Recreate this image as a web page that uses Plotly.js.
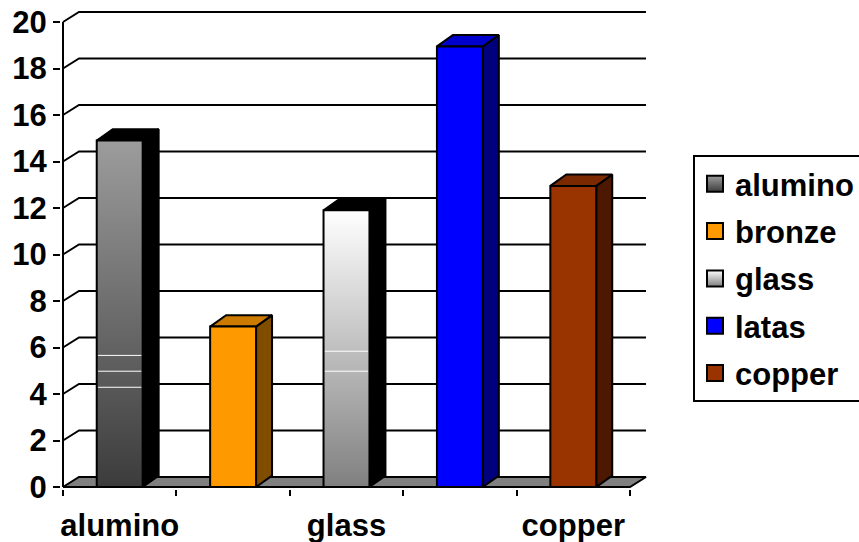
<!DOCTYPE html>
<html>
<head>
<meta charset="utf-8">
<script src="https://cdn.plot.ly/plotly-3.0.1.min.js"></script>
<style>html,body{margin:0;padding:0;background:#fff;overflow:hidden}#chart{width:859px;height:542px}</style>
</head>
<body>
<div id="chart"></div>
<script>
// ---- data ----
const categories = ['alumino', 'bronze', 'glass', 'latas', 'copper'];
const values = [14.9, 6.9, 11.9, 18.95, 12.95];
const yTicks = [0, 2, 4, 6, 8, 10, 12, 14, 16, 18, 20];
const xLabelIdx = [0, 2, 4];
const boundaryTicks = [-0.5, 0.5, 1.5, 2.5, 3.5, 4.5];
const frontColors = ['#808080', '#FF9900', '#cccccc', '#0000FF', '#993300'];
const topColors = ['#000000', '#CC7A00', '#000000', '#0000CC', '#7A2900'];
const sideColors = ['#000000', '#7F4C00', '#000000', '#00007F', '#4C1900'];
const gradients = [
  [[0, '#3c3c3c'], [1, '#9c9c9c']],
  null,
  [[0, '#808080'], [1, '#ffffff']],
  null,
  null
];
const stripes = [[4.29, 4.98, 5.66], [], [4.98, 5.84], [], []];

// ---- geometry in axis units ----
const barW = 0.405, dX = 0.141, wallDY = 0.43, barDY = 0.49;
const xRange = [-0.5176, 4.65], yRange = [-0.086, 20.516];
const traces = [];
const lineTrace = (xs, ys, c, w) => ({
  type: 'scatter', mode: 'lines', x: xs, y: ys, showlegend: false, hoverinfo: 'skip',
  line: {color: c, width: w}
});
const poly = (xs, ys, fill) => Object.assign(lineTrace(xs, ys, '#000', 2), {fill: 'toself', fillcolor: fill});

// back wall grid lines, the floor and the front axis line
yTicks.slice(1).forEach(v => traces.push(
  lineTrace([-0.5, -0.5 + dX, 4.5 + dX], [v, v + wallDY, v + wallDY], '#000', 2)
));
traces.push(poly([-0.5, -0.5 + dX, 4.5 + dX, 4.5, -0.5], [0, wallDY, wallDY, 0, 0], '#808080'));
traces.push(lineTrace([-0.5, -0.5], [0, 20], '#000', 2));

// bars
values.forEach((v, i) => {
  const l = i - barW / 2, r = i + barW / 2;
  traces.push(poly([r, r + dX, r + dX, r, r], [0, barDY, v + barDY, v, 0], sideColors[i]));
  traces.push(poly([l, l + dX, r + dX, r, l], [v, v + barDY, v + barDY, v, v], topColors[i]));
  const front = poly([l, r, r, l, l], [0, 0, v, v, 0], frontColors[i]);
  if (gradients[i]) {
    front.fillgradient = {type: 'vertical', colorscale: gradients[i]};
    delete front.fillcolor;
  }
  traces.push(front);
  stripes[i].forEach(s => traces.push(lineTrace([l + 0.012, r - 0.012], [s, s], '#fff', 1)));
});

// legend entries
categories.forEach((c, i) => {
  const m = {symbol: 'square', size: 16, color: frontColors[i], line: {color: '#000', width: 2}};
  if (gradients[i]) {
    m.color = gradients[i][1][1];
    m.gradient = {type: 'vertical', color: gradients[i][0][1]};
  }
  traces.push({type: 'scatter', mode: 'markers', x: [null], y: [null], name: c,
    legendgroup: c, marker: m, hoverinfo: 'skip'});
});

// carrier of the tick marks between the categories
traces.push({type: 'scatter', mode: 'none', x: [null], y: [null], xaxis: 'x2', showlegend: false, hoverinfo: 'skip'});

const font = {family: '"Liberation Sans", Arial, sans-serif', size: 31, color: '#000', weight: 'bold'};
const layout = {
  width: 859, height: 542, paper_bgcolor: '#fff', plot_bgcolor: 'rgba(0,0,0,0)',
  margin: {l: 61, r: 212, t: 10, b: 53, autoexpand: false},
  font: font, showlegend: true, hovermode: false,
  xaxis: {
    type: 'linear', range: xRange, tickmode: 'array', tickvals: xLabelIdx,
    ticktext: xLabelIdx.map(i => categories[i]), ticks: '', showgrid: false, zeroline: false,
    showline: false, tickfont: font, ticklabelstandoff: 15
  },
  xaxis2: {
    type: 'linear', range: xRange, overlaying: 'x', anchor: 'y', side: 'bottom',
    tickmode: 'array', tickvals: boundaryTicks, ticks: 'outside', ticklen: 6, tickwidth: 2,
    tickcolor: '#000', showticklabels: false, showgrid: false, zeroline: false, showline: false
  },
  yaxis: {
    range: yRange, tickmode: 'array', tickvals: yTicks, ticks: 'outside', ticklen: 7, tickwidth: 2,
    tickcolor: '#000', showgrid: false, zeroline: false, showline: false, tickfont: font
  },
  legend: {
    x: 1.0785, y: 0.697, xanchor: 'left', yanchor: 'top', bgcolor: '#fff', bordercolor: '#000', borderwidth: 2,
    font: font, tracegroupgap: 4, itemclick: false, itemdoubleclick: false
  }
};
Plotly.newPlot('chart', traces, layout, {displayModeBar: false, staticPlot: true});
</script>
</body>
</html>
